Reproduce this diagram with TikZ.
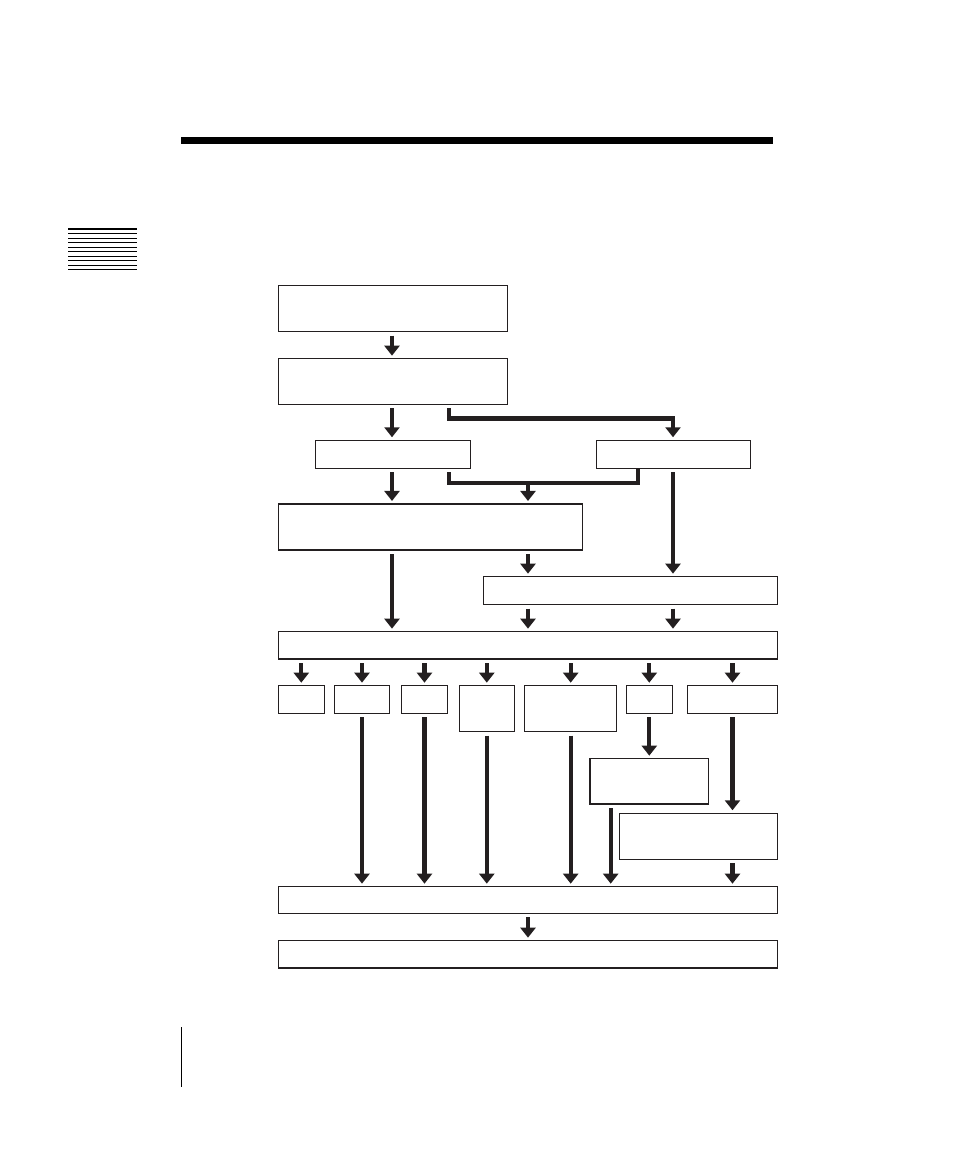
\documentclass[tikz,border=0pt]{standalone}
\usepackage{xcolor}
\usepackage{tikz}
\usetikzlibrary{arrows.meta,calc,fit}
\definecolor{dink}{HTML}{231F20}
\tikzset{
  dbox/.style={draw=dink, line width=1.2pt, inner sep=0pt, fit={#1}},
  darr/.style={-{Triangle[length=0.3cm,width=0.45cm]}, dink, line width=0.13cm,
               shorten <=0.1cm, shorten >=0.07cm},
  dbar/.style={dink, line width=0.13cm, shorten <=0.1cm},
  drule/.style={black, line width=0.9pt},
}
\begin{document}
\begin{tikzpicture}[x=0.03cm,y=-0.03cm]
  \useasboundingbox (0,0) rectangle (954,1165);

  % page decoration
  \fill[black] (181,137) rectangle (773,144);
  \foreach \k in {0,...,9}
    \draw[drule] (68,{229+4.55*\k}) -- (137,{229+4.55*\k});
  \draw[black, line width=1.1pt] (181.5,1027) -- (181.5,1087);

  % columns
  \coordinate (cA) at (392,0);
  \coordinate (cB) at (449,0);
  \coordinate (cC) at (528,0);
  \coordinate (cD) at (638,0);
  \coordinate (cE) at (673,0);
  \coordinate (cF) at (610.7,0);

  % boxes
  \node[dbox={(278.3,285.7) (507.3,331.7)}] (top) {};
  \node[dbox={(278.3,358.7) (507.3,404.3)}] (mid) {};
  \node[dbox={(315.7,440.3) (470.3,468.3)}] (left) {};
  \node[dbox={(596.3,440.3) (750.7,468.3)}] (right) {};
  \node[dbox={(278.3,504) (582.3,550)}] (wide) {};
  \node[dbox={(483.3,576.7) (777.7,604.7)}] (side) {};
  \node[dbox={(278.3,631.7) (777.7,659)}] (bus) {};
  \node[dbox={(278.3,685.7) (324.3,713.3)}] (o1) {};
  \node[dbox={(334.3,685.7) (389.7,713.3)}] (o2) {};
  \node[dbox={(401.7,685.7) (447.3,713.3)}] (o3) {};
  \node[dbox={(459.3,685.7) (514.3,731.7)}] (o4) {};
  \node[dbox={(524.7,685.7) (616.7,731.7)}] (o5) {};
  \node[dbox={(626.3,685.7) (672.3,713.3)}] (o6) {};
  \node[dbox={(687.3,685.7) (777.7,713.3)}] (o7) {};
  \node[dbox={(590,758.7) (708.3,804)}] (sub1) {};
  \node[dbox={(619.3,813.3) (777.7,859.3)}] (sub2) {};
  \node[dbox={(278.3,886.7) (777.7,913.3)}] (merge) {};
  \node[dbox={(278.3,940.7) (777.7,968)}] (out) {};

  % upper part
  \draw[darr] (cA |- top.south) -- (cA |- mid.north);
  \draw[darr] (cA |- mid.south) -- (cA |- left.north);
  \draw[darr] (cB |- mid.south) |- ($(cE |- mid.south)+(0,13.5)$) -- (cE |- right.north);
  \draw[darr] (cA |- left.south) -- (cA |- wide.north);
  \draw[dbar] (cB |- left.south) |- ($(cD |- left.south)+(0,13.8)$)
    coordinate (join) -- ++(0,-13.8);
  \draw[dbar, shorten <=-0.03cm] (join) -- ($(cD |- right.south)+(0,3.3)$);
  \draw[darr, shorten <=0pt] (cC |- join) -- (cC |- wide.north);
  \draw[darr] (cE |- right.south) -- (cE |- side.north);
  \draw[darr] (cC |- wide.south) -- (cC |- side.north);
  \draw[darr] (cA |- wide.south) -- (cA |- bus.north);
  \draw[darr] (cC |- side.south) -- (cC |- bus.north);
  \draw[darr] (cE |- side.south) -- (cE |- bus.north);

  % fan out
  \foreach \o in {1,...,7}
    \draw[darr] (bus.south -| o\o.north) -- (o\o.north);
  \foreach \o in {2,3,4,5}
    \draw[darr] (o\o.south) -- (o\o.south |- merge.north);
  \draw[darr] (o6.south) -- (o6.south |- sub1.north);
  \draw[darr] (o7.south) -- (o7.south |- sub2.north);
  \draw[darr] (cF |- sub1.south) -- (cF |- merge.north);
  \draw[darr] (o7.south |- sub2.south) -- (o7.south |- merge.north);
  \draw[darr] (cC |- merge.south) -- (cC |- out.north);

\end{tikzpicture}
\end{document}
